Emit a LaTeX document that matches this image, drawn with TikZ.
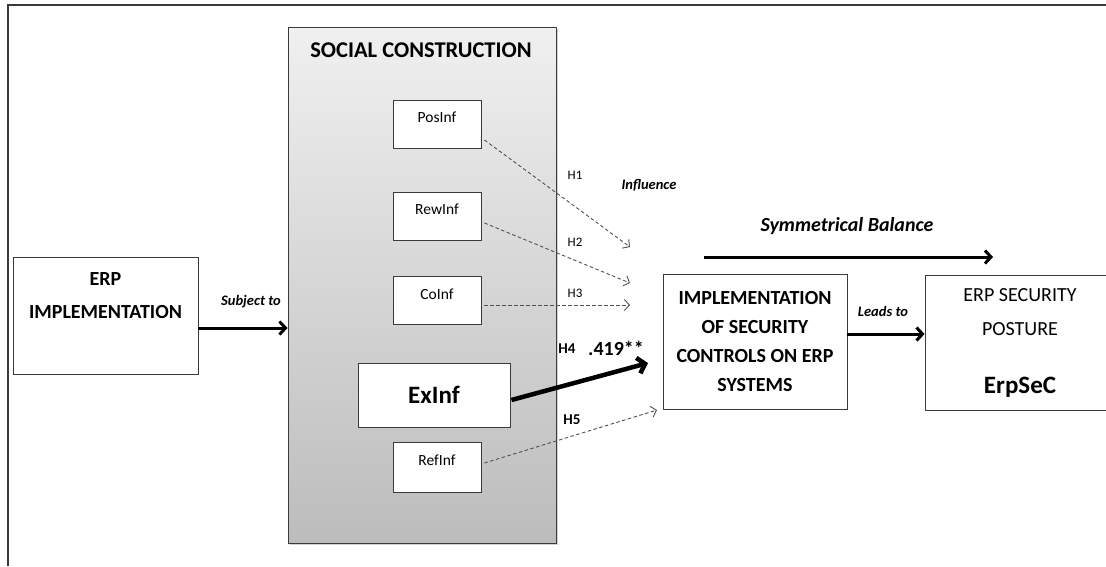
\documentclass[tikz,border=0pt]{standalone}
\usepackage{fontspec}
\setmainfont{Carlito}
\usetikzlibrary{
  arrows.meta,
  positioning,
  shadows
}
\definecolor{scTop}{HTML}{F0F0F0}
\definecolor{scBot}{HTML}{BCBCBC}
\definecolor{scEdge}{HTML}{3A3A3A}
\definecolor{scDash}{HTML}{505050}
\tikzset{
  scnode/.style={
    draw=scEdge, fill=white, inner sep=0pt, align=center, line width=0.9pt
  },
  bigbox/.style={scnode, font=\fontsize{20}{33}\selectfont\bfseries},
  infbox/.style={scnode, minimum width=88pt, minimum height=48pt,
    font=\fontsize{15.5}{18}\selectfont, text height=11pt, text depth=14pt},
  exbox/.style={scnode, minimum width=152pt, minimum height=64pt,
    font=\fontsize{25}{30}\selectfont\bfseries},
  group/.style={draw=scEdge, line width=1pt, top color=scTop, bottom color=scBot,
    minimum width=268pt, minimum height=516pt, inner sep=0pt,
    drop shadow={shadow xshift=2pt, shadow yshift=-2pt, opacity=0.35}},
  grouptitle/.style={font=\fontsize{22.5}{26}\selectfont\bfseries, inner sep=0pt},
  frame/.style={draw=scEdge, line width=1.4pt},
  flowbold/.style={line width=3pt, -{Straight Barb[length=6pt, width=13pt]}},
  flowheavy/.style={line width=4.5pt, -{Straight Barb[length=7pt, width=16pt]}},
  hyp/.style={draw=scDash, line width=0.9pt, dash pattern=on 3.5pt off 2.5pt,
    -{Straight Barb[length=5pt, width=11pt]}},
  hlab/.style={font=\fontsize{13}{15}\selectfont, inner sep=0pt},
  hbold/.style={font=\fontsize{15}{17}\selectfont\bfseries, inner sep=0pt},
  coef/.style={font=\fontsize{20}{22}\selectfont\bfseries, inner sep=0pt},
  cue/.style={font=\fontsize{14.5}{16}\selectfont\bfseries\itshape, inner sep=0pt},
  balance/.style={font=\fontsize{20}{23}\selectfont\bfseries\itshape, inner sep=0pt}
}

\begin{document}
\begin{tikzpicture}[x=1pt, y=-1pt]
  \useasboundingbox (0,0) rectangle (1106,566);
  \draw[frame] (8,566) -- (8,5) -- (1106,5);

  % social construction block
  \node[group] (sc) at (422,285) {};
  \node[grouptitle] (sctitle) at (421,50) {SOCIAL CONSTRUCTION};
  \node[infbox] (pos) at (437,124) {PosInf};
  \node[infbox] (rew) at (437,216) {RewInf};
  \node[infbox] (co) at (437,300.5) {CoInf};
  \node[exbox] (ex) at (434,395) {ExInf};
  \node[infbox, minimum height=50pt] (ref) at (437,467) {RefInf};

  % outer boxes
  \node[bigbox, minimum width=185pt, minimum height=117pt] (erp) at (105.5,315.5) {ERP\\IMPLEMENTATION\\[6pt]~};
  \node[bigbox, minimum width=184pt, minimum height=135pt, font=\fontsize{20}{29}\selectfont\bfseries] (impl) at (755,341.5)
    {IMPLEMENTATION\\OF SECURITY\\CONTROLS ON ERP\\SYSTEMS};
  \node[scnode, minimum width=190pt, minimum height=135pt, font=\fontsize{20}{34}\selectfont] (sec) at (1020,342.5)
    {ERP SECURITY\\POSTURE\\[24pt]{\fontsize{25}{30}\selectfont\bfseries ErpSeC}};

  \coordinate (h1end) at (630,247);
  \coordinate (h2end) at (630,283);
  \coordinate (h3end) at (630,305);
  \coordinate (h4end) at (648,363);
  \coordinate (h5end) at (657,410);
  \coordinate (balA) at (704,257);
  \coordinate (balB) at (993,257);

  \foreach \s/\dy/\e in {pos/-16/h1end, rew/-7/h2end, co/-4.5/h3end, ref/4/h5end}{\draw[hyp] ([xshift=3pt,yshift=\dy pt]\s.east) -- (\e);}
  \draw[flowheavy] ([xshift=1pt,yshift=-5pt]ex.east) -- (h4end);
  \draw[flowbold] ([yshift=-12.5pt]erp.east) -- ([yshift=-43pt]sc.west);
  \draw[flowbold] ([yshift=7.5pt]impl.east) -- ([yshift=8.5pt]sec.west);
  \draw[flowbold] (balA) -- (balB);

  % labels
  \node[hlab] (h1) at (575,175) {H1};
  \node[hlab] (h2) at (575,242) {H2};
  \node[hlab] (h3) at (575,293) {H3};
  \node[cue] (infl) at (649,185) {Influence};
  \node[hbold] (h4) at (567,349) {H4};
  \node[coef] (beta) at (616,348) {.419**};
  \node[hbold] (h5) at (572,420) {H5};
  \node[cue] (subjlab) at (251,302) {Subject to};
  \node[cue] (leadlab) at (883,311) {Leads to};
  \node[balance] (ballab) at (847,226) {Symmetrical Balance};
\end{tikzpicture}
\end{document}
